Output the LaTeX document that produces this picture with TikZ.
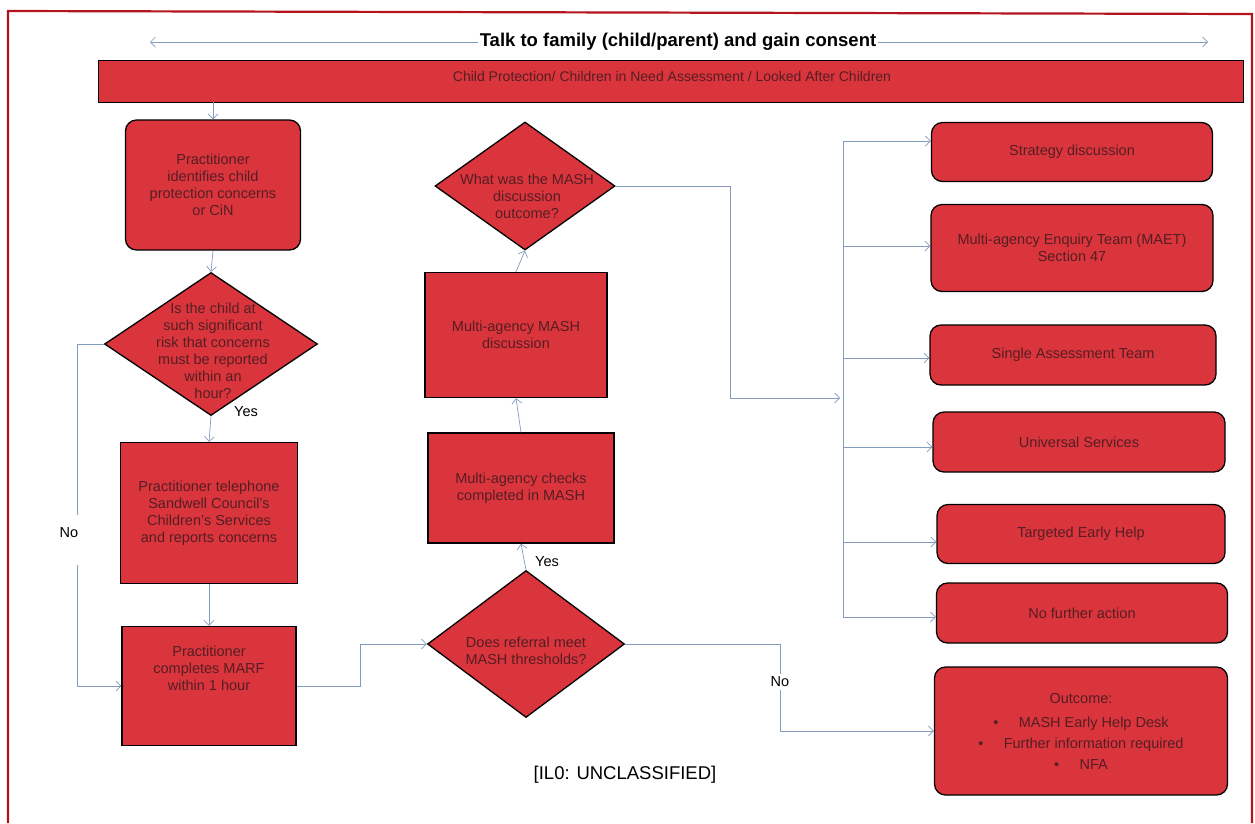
\documentclass[tikz,border=0pt]{standalone}
\usepackage{fontspec}
\setmainfont{Liberation Sans}
\usetikzlibrary{shapes.geometric,arrows.meta}
\definecolor{boxred}{RGB}{218,52,60}
\definecolor{boxtext}{RGB}{85,30,35}
\definecolor{conn}{RGB}{130,155,190}
\definecolor{frame}{RGB}{180,20,30}
\tikzset{
  base/.style={draw=black, line width=1.3pt, fill=boxred, text=boxtext, align=center,
    font=\fontsize{14.5}{17}\selectfont, inner sep=0pt},
  sqbox/.style={base, rectangle, minimum width=#1},
  rbox/.style={base, rectangle, rounded corners=11pt},
  dia/.style={base, diamond, inner sep=0pt},
  diatext/.style={text=boxtext, align=center, font=\fontsize{14.5}{17}\selectfont, inner sep=0pt},
  conn/.style={draw=conn, line width=0.7pt, -{Straight Barb[length=5pt,width=10pt,line width=0.7pt]}},
  connl/.style={draw=conn, line width=0.7pt},
  lab/.style={font=\fontsize{14.5}{16}\selectfont, text=black, inner sep=1pt}
}
\begin{document}
\begin{tikzpicture}[x=1pt,y=-1pt]
\useasboundingbox (0,0) rectangle (1255,823);
% frame
\draw[frame, line width=2.2pt] (8,823) -- (8,11) -- (1252,14) -- (1252,823);

% title arrow
\coordinate (tl) at (150,42);
\coordinate (tr) at (1208,42);
\draw[connl, {Straight Barb[length=5pt,width=10pt,line width=0.7pt]}-{Straight Barb[length=5pt,width=10pt,line width=0.7pt]}] (tl) -- (tr);
\node[fill=white, inner sep=2pt, font=\bfseries\fontsize{18.5}{20}\selectfont] (title) at (678,42) {Talk to family (child/parent) and gain consent};

% banner
\node[base, rectangle, minimum width=1145pt, minimum height=42pt, anchor=north west] (banner) at (98,60) {};
\node[text=boxtext, font=\fontsize{14}{16}\selectfont] (bannertxt) at (672,76) {Child Protection/ Children in Need Assessment / Looked After Children};

% left column
\node[rbox, minimum width=175pt, minimum height=130pt] (b1) at (213,185)
  {Practitioner\\identifies child\\protection concerns\\or CiN};
\node[dia, minimum width=213pt, minimum height=143pt] (d1) at (211,344) {};
\node[diatext] (d1t) at (213,351)
  {Is the child at\\such significant\\risk that concerns\\must be reported\\within an\\hour?};
\node[sqbox=177pt, minimum height=141pt] (b2) at (209,513)
  {Practitioner telephone\\Sandwell Council's\\Children's Services\\and reports concerns};
\node[sqbox=174pt, minimum height=119pt] (b3) at (209,686)
  {Practitioner\\completes MARF\\within 1 hour\\[18pt]};

% middle column
\node[dia, minimum width=197pt, minimum height=147pt] (d2) at (526,644) {};
\node[diatext] (d2t) at (526,651) {Does referral meet\\MASH thresholds?};
\node[sqbox=186pt, minimum height=110pt] (b4) at (521,488)
  {Multi-agency checks\\completed in MASH};
\node[sqbox=182pt, minimum height=125pt] (b5) at (516,335)
  {Multi-agency MASH\\discussion};
\node[dia, minimum width=180pt, minimum height=128pt] (d3) at (525,186) {};
\node[diatext] (d3t) at (527,196) {What was the MASH\\discussion\\outcome?};

% right column
\node[rbox, minimum width=281pt, minimum height=59pt] (r1) at (1072,152) {Strategy discussion};
\node[rbox, minimum width=282pt, minimum height=87pt] (r2) at (1072,248) {Multi-agency Enquiry Team (MAET)\\Section 47};
\node[rbox, minimum width=286pt, minimum height=60pt] (r3) at (1073,355) {Single Assessment Team};
\node[rbox, minimum width=292pt, minimum height=60pt] (r4) at (1079,442) {Universal Services};
\node[rbox, minimum width=288pt, minimum height=59pt] (r5) at (1081,534) {Targeted Early Help};
\node[rbox, minimum width=291pt, minimum height=60pt] (r6) at (1082,613) {No further action};
\node[rbox, minimum width=293pt, minimum height=128pt, font=\fontsize{14.5}{21}\selectfont] (r7) at (1081,731)
  {Outcome:\\[3pt]
   \textbullet\hspace{1.4em}MASH Early Help Desk\\
   \textbullet\hspace{1.4em}Further information required\\
   \textbullet\hspace{1.4em}NFA};

% labels
\node[lab] (yes1) at (246,412) {Yes};
\node[lab] (yes2) at (547,562) {Yes};
\node[lab] (no1) at (69,533) {No};
\node[lab, fill=white, inner sep=3pt] (no2) at (780,682) {No};
\node[font=\fontsize{18.5}{20}\selectfont] (ilo) at (625,775) {[IL0: UNCLASSIFIED]};

% coordinates
\coordinate (trunkTop) at (843,141);
\coordinate (trunkBot) at (843,617);
\coordinate (m3) at (840,398);
\coordinate (nA) at (77,515);
\coordinate (nB) at (77,565);

% connectors
\draw[conn] (213,102) -- (b1.north);
\draw[conn] (b1.south) -- (d1.north);
\draw[conn] (d1.south) -- (b2.north);
\draw[conn] (b2.south) -- (b3.north);
\draw[connl] (d1.west) -| (nA);
\draw[conn] (nB) |- (b3.west);
\draw[conn] (b3.east) -- ++(64,0) |- (d2.west);
\draw[conn] (d2.north) -- (b4.south);
\draw[conn] (b4.north) -- (b5.south);
\draw[conn] (b5.north) -- (d3.south);
\draw[conn] (d3.east) -- ++(115,0) |- (m3);
\draw[connl] (trunkTop) -- (trunkBot);
\draw[conn] (trunkTop) -- (trunkTop -| r1.west);
\draw[conn] (843,246) -- (843,246 -| r2.west);
\draw[conn] (843,358) -- (843,358 -| r3.west);
\draw[conn] (843,447) -- (843,447 -| r4.west);
\draw[conn] (843,542) -- (843,542 -| r5.west);
\draw[conn] (trunkBot) -- (trunkBot -| r6.west);
\draw[connl] (d2.east) -| (no2.north);
\draw[conn] (no2.south) |- (r7.west);
\end{tikzpicture}
\end{document}
